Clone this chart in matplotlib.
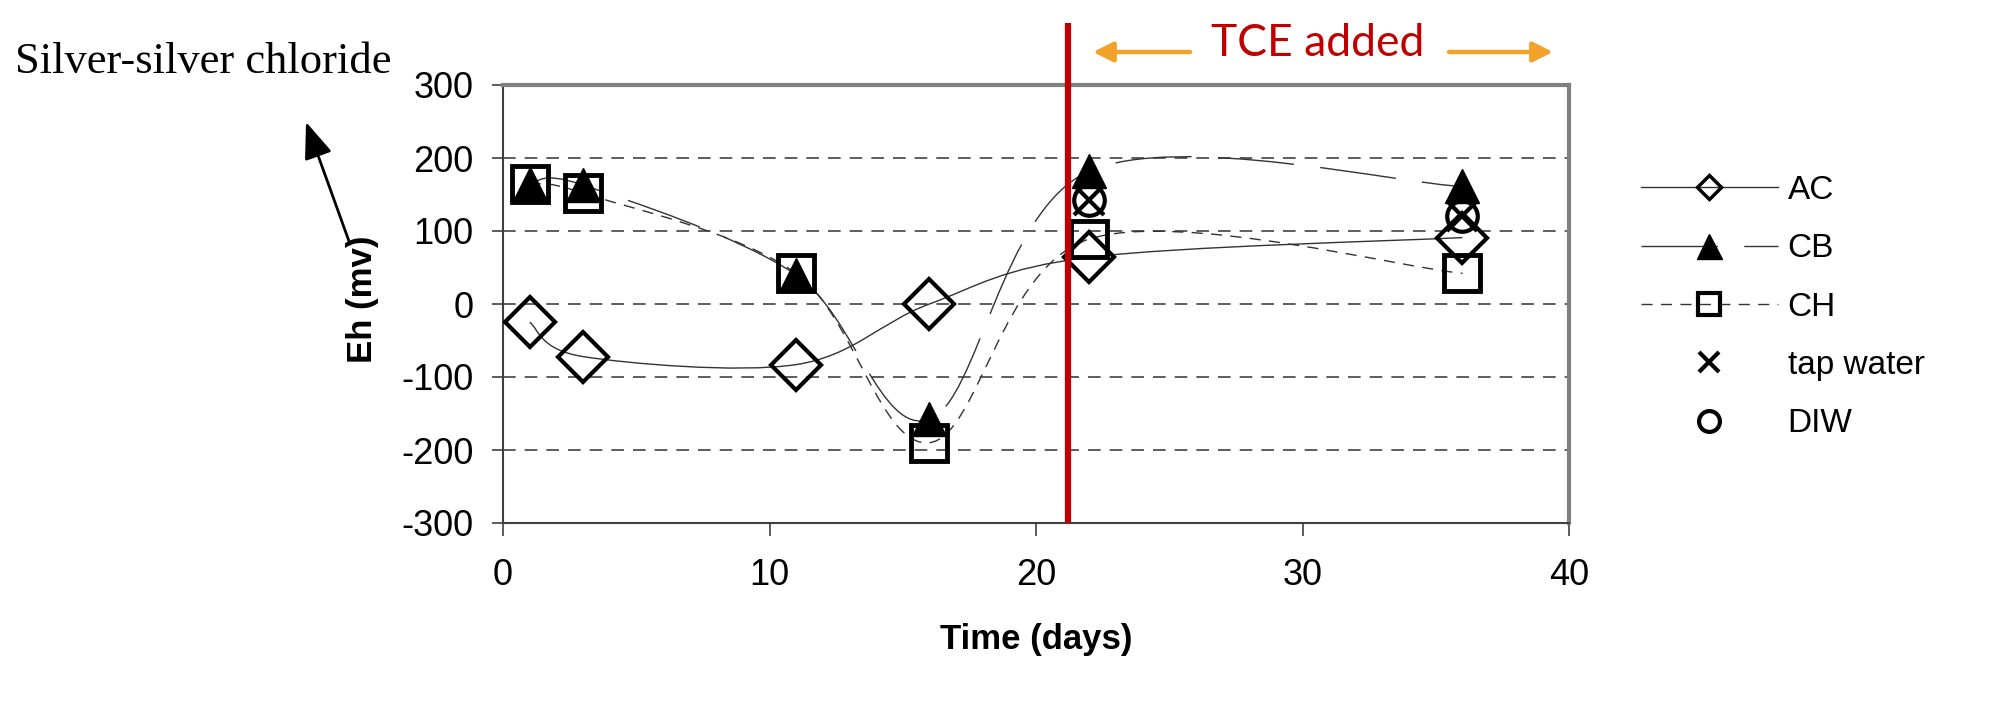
import numpy as np
import matplotlib.pyplot as plt
from matplotlib.path import Path
from matplotlib.patches import PathPatch
from matplotlib.lines import Line2D

plt.rcParams['font.family'] = ['Liberation Sans', 'DejaVu Sans']
plt.rcParams['axes.unicode_minus'] = False

# Eh readings (mV) vs time (days)
days = [1, 3, 11, 16, 22, 36]
ac = [-25, -72, -83, 0, 64, 91]
cb = [165, 163, 40, -158, 182, 161]
ch = [164, 152, 42, -190, 89, 42]
late_days = [22, 36]
tap_water = [143, 120]
diw = [143, 120]
tce_day = 21.2
xticks = [0, 10, 20, 30, 40]
yticks = [-300, -200, -100, 0, 100, 200, 300]
labels = ['AC', 'CB', 'CH', 'tap water', 'DIW']

W, H = 1993, 712


def smooth_path(x, y):
    # excel style smoothed line: bezier segments with catmull-rom controls
    p = np.column_stack([x, y]).astype(float)
    ext = np.vstack([p[0], p, p[-1]])
    verts = [p[0]]
    codes = [Path.MOVETO]
    for i in range(len(p) - 1):
        c1 = ext[i + 1] + (ext[i + 2] - ext[i]) / 6
        c2 = ext[i + 2] - (ext[i + 3] - ext[i + 1]) / 6
        verts += [c1, c2, p[i + 1]]
        codes += [Path.CURVE4] * 3
    return Path(verts, codes)


fig = plt.figure(figsize=(W / 100, H / 100), dpi=100)
ax = fig.add_axes([503 / W, 1 - 523 / H, 1066 / W, 438 / H])

ax.set_xlim(0, 40)
ax.set_ylim(-300, 300)
ax.set_xticks(xticks)
ax.set_yticks(yticks)
ax.yaxis.grid(True, color='#505050', lw=1.3, ls=(0, (7, 5)))
ax.set_axisbelow(True)

for s in ['top', 'right']:
    ax.spines[s].set_color('#808080')
    ax.spines[s].set_linewidth(3)
for s in ['left', 'bottom']:
    ax.spines[s].set_color('#404040')
    ax.spines[s].set_linewidth(1.5)

ax.tick_params(axis='x', direction='out', length=9, width=1.2, pad=16,
               labelsize=26, color='#404040')
ax.tick_params(axis='y', direction='out', length=8, width=1.2, pad=13,
               labelsize=26, color='#404040')

line_col = '#333333'
ax.add_patch(PathPatch(smooth_path(days, ac), fill=False, ec=line_col, lw=1.0, ls='-'))
ax.add_patch(PathPatch(smooth_path(days, cb), fill=False, ec=line_col, lw=1.0, ls=(0, (55, 19))))
ax.add_patch(PathPatch(smooth_path(days, ch), fill=False, ec=line_col, lw=1.0, ls=(0, (8, 6))))

ax.plot(days, ac, ls='none', marker='D', ms=25, mfc='none', mec='k', mew=3, zorder=4)
ax.plot(days, cb, ls='none', marker='^', ms=24, mfc='k', mec='k', mew=1, zorder=4)
ax.plot(days, ch, ls='none', marker='s', ms=26, mfc='none', mec='k', mew=3.5, zorder=4)
ax.plot(late_days, tap_water, ls='none', marker='x', ms=22, mec='k', mew=3, zorder=4)
ax.plot(late_days, diw, ls='none', marker='o', ms=22, mfc='none', mec='k', mew=3, zorder=4)

# TCE addition marker line
ax.plot([tce_day, tce_day], [-300, 385], color='#C00000', lw=4.5,
        clip_on=False, zorder=6, solid_capstyle='butt')

ax.set_xlabel('Time (days)', fontsize=25, fontweight='bold')
ax.xaxis.set_label_coords(0.5, -0.265)
ax.xaxis.label.set_va('center')
ax.set_ylabel('Eh (mv)', fontsize=25, fontweight='bold')
ax.yaxis.set_label_coords(-0.132, 0.51)
ax.yaxis.label.set_va('center')

fig.text(1318 / W, 1 - 44 / H, 'TCE added', color='#C00000', fontsize=32,
         family='Lato', ha='center', va='center')
orange = '#F2A22A'
for x0, x1 in [(1190, 1093), (1449, 1553)]:
    ax.annotate('', xy=(x1, H - 52), xytext=(x0, H - 52), xycoords='figure pixels',
                arrowprops=dict(arrowstyle='-|>,head_length=0.6,head_width=0.3',
                                color=orange, lw=3.2, mutation_scale=20,
                                shrinkA=0, shrinkB=0))

fig.text(15 / W, 1 - 62 / H, 'Silver-silver chloride', family='Liberation Serif',
         fontsize=32, ha='left', va='center')
ax.annotate('', xy=(306, H - 122), xytext=(350, H - 244), xycoords='figure pixels',
            arrowprops=dict(arrowstyle='-|>,head_length=0.9,head_width=0.35',
                            color='k', lw=2, mutation_scale=25, shrinkA=0, shrinkB=0))

handles = [
    Line2D([], [], color=line_col, lw=1, marker='D', ms=12, mfc='none', mec='k', mew=2.5),
    Line2D([], [], color=line_col, lw=1, ls=(0, (55, 19)), marker='^', ms=18, mfc='k', mec='k'),
    Line2D([], [], color=line_col, lw=1, ls=(0, (8, 6)), marker='s', ms=16, mfc='none', mec='k', mew=3),
    Line2D([], [], ls='none', marker='x', ms=15, mec='k', mew=3),
    Line2D([], [], ls='none', marker='o', ms=15, mfc='none', mec='k', mew=3),
]
fig.legend(handles, labels, loc='upper left', bbox_to_anchor=(1641 / W, 1 - 175 / H),
           frameon=False, fontsize=24, handlelength=4.1, handletextpad=0.3,
           labelspacing=0.82, borderpad=0, borderaxespad=0)

fig.savefig('out.png', dpi=100)
